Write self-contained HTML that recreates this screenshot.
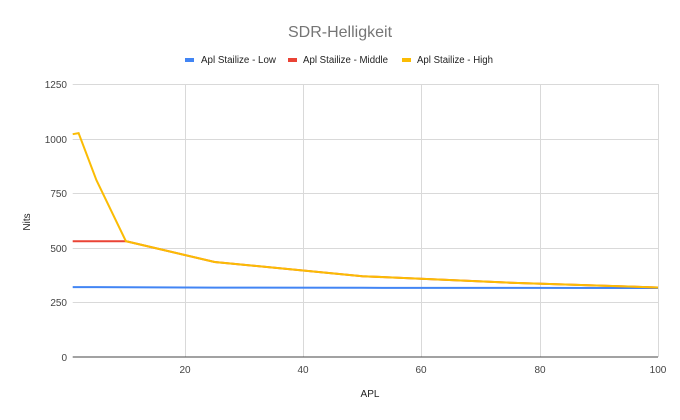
<!DOCTYPE html>
<html><head><meta charset="utf-8"><style>
html,body{margin:0;padding:0;background:#fff;}
svg{display:block;font-family:"Liberation Sans",Arial,sans-serif;}
</style></head><body>
<svg width="680" height="420" viewBox="0 0 680 420">
<rect width="680" height="420" fill="#fff"/>
<text x="340" y="37" text-anchor="middle" font-size="16" fill="#757575">SDR-Helligkeit</text>
<rect x="185" y="58" width="9" height="4" fill="#4285f4"/>
<text x="201" y="63" font-size="10" fill="#222" textLength="75" lengthAdjust="spacingAndGlyphs">Apl Stailize - Low</text>
<rect x="288" y="58" width="9" height="4" fill="#ea4335"/>
<text x="303" y="63" font-size="10" fill="#222" textLength="85" lengthAdjust="spacingAndGlyphs">Apl Stailize - Middle</text>
<rect x="402" y="58" width="9" height="4" fill="#fbbc04"/>
<text x="417" y="63" font-size="10" fill="#222" textLength="76" lengthAdjust="spacingAndGlyphs">Apl Stailize - High</text>
<g stroke="#d9d9d9" stroke-width="1">
<line x1="72.7" y1="84.5" x2="658" y2="84.5"/>
<line x1="72.7" y1="139.5" x2="658" y2="139.5"/>
<line x1="72.7" y1="193.5" x2="658" y2="193.5"/>
<line x1="72.7" y1="248.5" x2="658" y2="248.5"/>
<line x1="72.7" y1="302.5" x2="658" y2="302.5"/>
<line x1="185.5" y1="84" x2="185.5" y2="357"/>
<line x1="303.5" y1="84" x2="303.5" y2="357"/>
<line x1="421.5" y1="84" x2="421.5" y2="357"/>
<line x1="540.5" y1="84" x2="540.5" y2="357"/>
<line x1="658.5" y1="84" x2="658.5" y2="357"/>
</g>
<line x1="72.7" y1="357" x2="658" y2="357" stroke="#444" stroke-width="1"/>
<g font-size="10" fill="#444" text-anchor="end">
<text x="67" y="88">1250</text>
<text x="67" y="143">1000</text>
<text x="67" y="197">750</text>
<text x="67" y="252">500</text>
<text x="67" y="306">250</text>
<text x="67" y="361">0</text>
</g>
<g font-size="10" fill="#444" text-anchor="middle">
<text x="185" y="373">20</text>
<text x="303" y="373">40</text>
<text x="421" y="373">60</text>
<text x="540" y="373">80</text>
<text x="658" y="373">100</text>
</g>
<text x="370" y="397" text-anchor="middle" font-size="10" fill="#222">APL</text>
<text transform="translate(30,222) rotate(-90)" text-anchor="middle" font-size="10" fill="#222">Nits</text>
<polyline fill="none" stroke="#4285f4" stroke-width="2" points="72.7,287.1 96.4,287.1 125.9,287.3 214.6,287.6 362.4,287.8 510.2,287.9 658,288"/>
<polyline fill="none" stroke="#ea4335" stroke-width="2" points="72.7,241.2 125.9,241.2 214.6,262 362.4,276.2 510.2,282.7 658,287.5"/>
<polyline fill="none" stroke="#fbbc04" stroke-width="2" points="72.7,134.2 78.6,133.1 96.4,180.1 125.9,241.2 214.6,262 362.4,276.2 510.2,282.7 658,287.5"/>
</svg>
</body></html>
